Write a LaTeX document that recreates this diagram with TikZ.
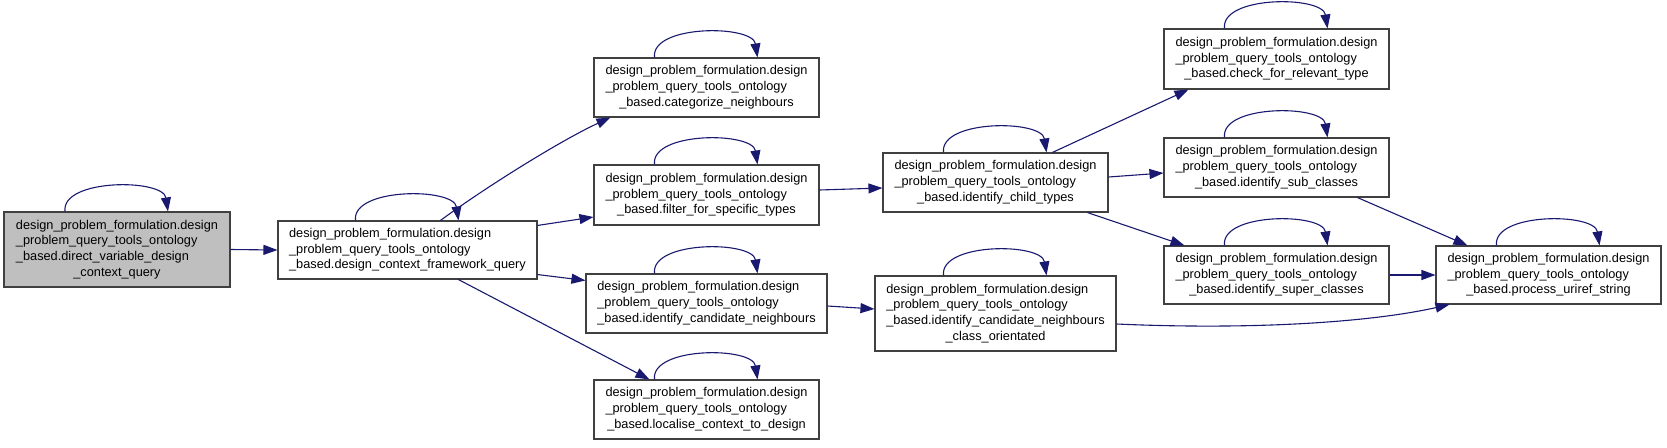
\documentclass[tikz,border=0pt]{standalone}
\usepackage{fontspec}
\setmainfont{Liberation Sans}
\usetikzlibrary{arrows.meta,calc}
\definecolor{edgecol}{RGB}{25,25,112}
\definecolor{boxline}{RGB}{64,64,64}
\definecolor{boxfill}{RGB}{191,191,191}
\newcommand{\lblthree}[3]{\begin{tabular}{@{}l@{}}#1\\#2\\\multicolumn{1}{@{}c@{}}{#3}\end{tabular}}
\newcommand{\lblfour}[4]{\begin{tabular}{@{}l@{}}#1\\#2\\#3\\\multicolumn{1}{@{}c@{}}{#4}\end{tabular}}
\newcommand{\myloop}[1]{\draw[edge] ($(#1.north)+(-52,0)$) .. controls +(-4,-33) and +(-5,-33) .. ($(#1.north)+(51,0)$);}
\tikzset{
  fnbox/.style={draw=boxline, line width=1.1pt, fill=white, inner sep=0pt,
    minimum width=225pt, minimum height=59pt, font=\fontsize{12.75}{15.7}\selectfont},
  edge/.style={draw=edgecol, line width=1.1pt, -{Triangle[length=14pt,width=10pt]}},
}
\begin{document}
\begin{tikzpicture}[x=1pt,y=-1pt]
\useasboundingbox (0,0) rectangle (1667,447);
\node[fnbox, fill=boxfill, minimum width=226pt, minimum height=75pt] (A) at (117,249.5)
  {\lblfour{design\_problem\_formulation.design}{\_problem\_query\_tools\_ontology}{\_based.direct\_variable\_design}{\_context\_query}};
\node[fnbox, minimum width=259pt, minimum height=58pt] (B) at (407.5,250)
  {\lblthree{design\_problem\_formulation.design}{\_problem\_query\_tools\_ontology}{\_based.design\_context\_framework\_query}};
\node[fnbox] (C1) at (706.5,87.5)
  {\lblthree{design\_problem\_formulation.design}{\_problem\_query\_tools\_ontology}{\_based.categorize\_neighbours}};
\node[fnbox, minimum height=60pt] (C2) at (706.5,195)
  {\lblthree{design\_problem\_formulation.design}{\_problem\_query\_tools\_ontology}{\_based.filter\_for\_specific\_types}};
\node[fnbox, minimum width=241pt] (C3) at (706.5,303.5)
  {\lblthree{design\_problem\_formulation.design}{\_problem\_query\_tools\_ontology}{\_based.identify\_candidate\_neighbours}};
\node[fnbox] (C4) at (706.5,409.5)
  {\lblthree{design\_problem\_formulation.design}{\_problem\_query\_tools\_ontology}{\_based.localise\_context\_to\_design}};
\node[fnbox] (D) at (995.5,182.5)
  {\lblthree{design\_problem\_formulation.design}{\_problem\_query\_tools\_ontology}{\_based.identify\_child\_types}};
\node[fnbox, minimum width=241pt, minimum height=75pt] (D2) at (995.5,313.5)
  {\lblfour{design\_problem\_formulation.design}{\_problem\_query\_tools\_ontology}{\_based.identify\_candidate\_neighbours}{\_class\_orientated}};
\node[fnbox, minimum height=60pt] (E1) at (1276.5,59)
  {\lblthree{design\_problem\_formulation.design}{\_problem\_query\_tools\_ontology}{\_based.check\_for\_relevant\_type}};
\node[fnbox] (E2) at (1276.5,167.5)
  {\lblthree{design\_problem\_formulation.design}{\_problem\_query\_tools\_ontology}{\_based.identify\_sub\_classes}};
\node[fnbox, minimum height=58pt] (E3) at (1276.5,275)
  {\lblthree{design\_problem\_formulation.design}{\_problem\_query\_tools\_ontology}{\_based.identify\_super\_classes}};
\node[fnbox, minimum height=58pt] (F) at (1548.5,275)
  {\lblthree{design\_problem\_formulation.design}{\_problem\_query\_tools\_ontology}{\_based.process\_uriref\_string}};
% self loops
\foreach \n in {A,B,C1,C2,C3,C4,D,D2,E1,E2,E3,F} {\myloop{\n}}
% edges
\draw[edge] (A.east) -- (B.west);
\draw[edge] ($(B.north west)+(163,0)$) .. controls +(49,-36) and +(-46,21) .. ($(C1.south west)+(17,0)$);
\draw[edge] ($(B.north east)+(0,5)$) -- ($(C2.west)+(0,22)$);
\draw[edge] ($(B.south east)+(0,-5)$) -- ($(C3.north west)+(0,7)$);
\draw[edge] ($(B.south west)+(181,0)$) -- ($(C4.north west)+(56,0)$);
\draw[edge] ($(C2.east)+(0,-5)$) -- ($(D.west)+(0,5.5)$);
\draw[edge] ($(C3.east)+(0,2.5)$) -- ($(D2.west)+(0,-4.5)$);
\draw[edge] ($(D.north west)+(170,0)$) -- ($(E1.south west)+(25,0)$);
\draw[edge] ($(D.east)+(0,-5.5)$) -- ($(E2.west)+(0,5.5)$);
\draw[edge] ($(D.south west)+(205,0)$) -- ($(E3.north west)+(21,0)$);
\draw[edge] ($(E2.south west)+(194,0)$) -- ($(F.north west)+(32,0)$);
\draw[edge] (E3.east) -- (F.west);
\draw[edge] ($(D2.east)+(0,10.5)$) .. controls +(134,6) and +(-80,18) .. ($(F.south west)+(14,0)$);
\end{tikzpicture}
\end{document}
